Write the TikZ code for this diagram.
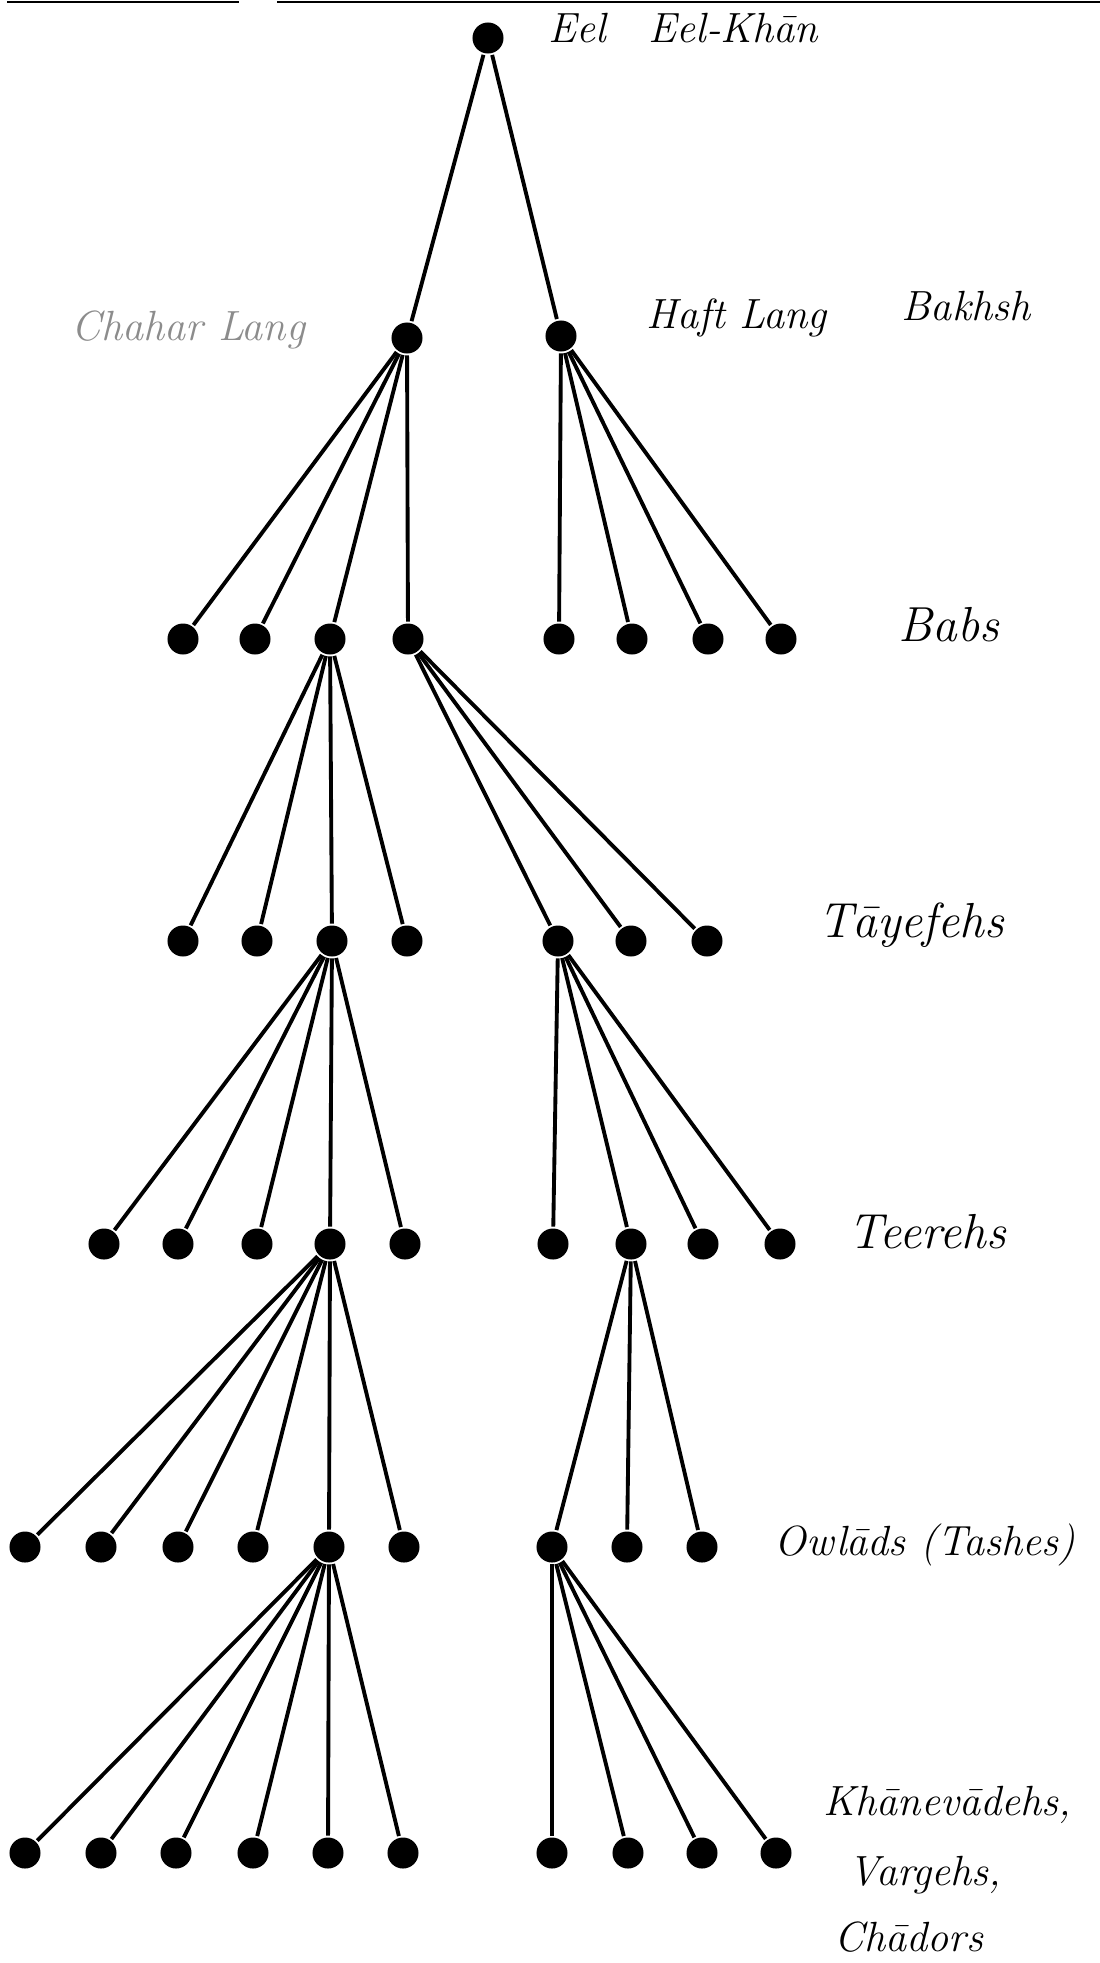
\documentclass[tikz,border=0pt]{standalone}
\usepackage{fontspec}
\begin{document}
\begin{tikzpicture}[x=0.01cm,y=-0.01cm,line width=1.1pt,
  dot/.style={circle,fill=black,inner sep=0pt,minimum size=3.1mm},
  lab/.style={anchor=west,inner sep=0pt,font=\fontsize{12}{14}\selectfont\itshape}]
\useasboundingbox (0,0) rectangle (1100,1963);

% ruled edge along the top
\coordinate (e1) at (7,2);
\coordinate (e2) at (239,2);
\coordinate (e3) at (277,2);
\coordinate (e4) at (1100,2);
\draw[line width=0.8pt] (e1) -- (e2);
\draw[line width=0.8pt] (e3) -- (e4);

% il-khan and the two halves
\node[dot] (ilkhan) at (488,38) {};
\node[dot] (chahar) at (407,338) {};
\node[dot] (haft) at (561,336) {};

% babs
\node[dot] (b1) at (183,639) {};
\node[dot] (b2) at (255,639) {};
\node[dot] (b3) at (330,639) {};
\node[dot] (b4) at (408,639) {};
\node[dot] (b5) at (559,639) {};
\node[dot] (b6) at (632,639) {};
\node[dot] (b7) at (708,639) {};
\node[dot] (b8) at (781,639) {};

% tayefehs
\node[dot] (t1) at (183,941) {};
\node[dot] (t2) at (257,941) {};
\node[dot] (t3) at (332,941) {};
\node[dot] (t4) at (407,941) {};
\node[dot] (t5) at (558,941) {};
\node[dot] (t6) at (631,941) {};
\node[dot] (t7) at (707,941) {};

% tirehs
\node[dot] (r1) at (104,1244) {};
\node[dot] (r2) at (178,1244) {};
\node[dot] (r3) at (257,1244) {};
\node[dot] (r4) at (330,1244) {};
\node[dot] (r5) at (405,1244) {};
\node[dot] (r6) at (553,1244) {};
\node[dot] (r7) at (631,1244) {};
\node[dot] (r8) at (703,1244) {};
\node[dot] (r9) at (780,1244) {};

% owlads
\node[dot] (o1) at (25,1547) {};
\node[dot] (o2) at (101,1547) {};
\node[dot] (o3) at (178,1547) {};
\node[dot] (o4) at (253,1547) {};
\node[dot] (o5) at (329,1547) {};
\node[dot] (o6) at (404,1547) {};
\node[dot] (o7) at (552,1547) {};
\node[dot] (o8) at (627,1547) {};
\node[dot] (o9) at (702,1547) {};

% khanevadehs
\node[dot] (k1) at (25,1853) {};
\node[dot] (k2) at (101,1853) {};
\node[dot] (k3) at (176,1853) {};
\node[dot] (k4) at (253,1853) {};
\node[dot] (k5) at (328,1853) {};
\node[dot] (k6) at (403,1853) {};
\node[dot] (k7) at (552,1853) {};
\node[dot] (k8) at (628,1853) {};
\node[dot] (k9) at (702,1853) {};
\node[dot] (k10) at (776,1853) {};

\draw (ilkhan) -- (chahar);
\draw (ilkhan) -- (haft);

\foreach \c in {b1,b2,b3,b4} \draw (chahar) -- (\c);
\foreach \c in {b5,b6,b7,b8} \draw (haft) -- (\c);

\foreach \c in {t1,t2,t3,t4} \draw (b3) -- (\c);
\foreach \c in {t5,t6,t7} \draw (b4) -- (\c);

\foreach \c in {r1,r2,r3,r4,r5} \draw (t3) -- (\c);
\foreach \c in {r6,r7,r8,r9} \draw (t5) -- (\c);

\foreach \c in {o1,o2,o3,o4,o5,o6} \draw (r4) -- (\c);
\foreach \c in {o7,o8,o9} \draw (r7) -- (\c);

\foreach \c in {k1,k2,k3,k4,k5,k6} \draw (o5) -- (\c);
\foreach \c in {k7,k8,k9,k10} \draw (o7) -- (\c);

% level names
\node[lab] (lilkhan) at (547,28) {Eel\quad Eel-Khān};
\node[lab,text=black!45] (lchahar) at (70,330) {Chahar Lang};
\node[lab] (lhaft) at (645,318) {Haft Lang};
\node[lab] (lbakhsh) at (900,306) {Bakhsh};
\node[lab,font=\fontsize{14}{16}\selectfont\itshape] (lbab) at (897,625) {Babs};
\node[lab,font=\fontsize{14}{16}\selectfont\itshape] (ltayefeh) at (817,925) {Tāyefehs};
\node[lab,font=\fontsize{14}{16}\selectfont\itshape] (ltireh) at (847,1232) {Teerehs};
\node[lab] (lowlad) at (773,1545) {Owlāds (Tashes)};
\node[lab] (lkhan) at (822,1805) {Khānevādehs,};
\node[lab] (lvargeh) at (847,1875) {Vargehs,};
\node[lab] (lchador) at (833,1937) {Chādors};
\end{tikzpicture}
\end{document}
